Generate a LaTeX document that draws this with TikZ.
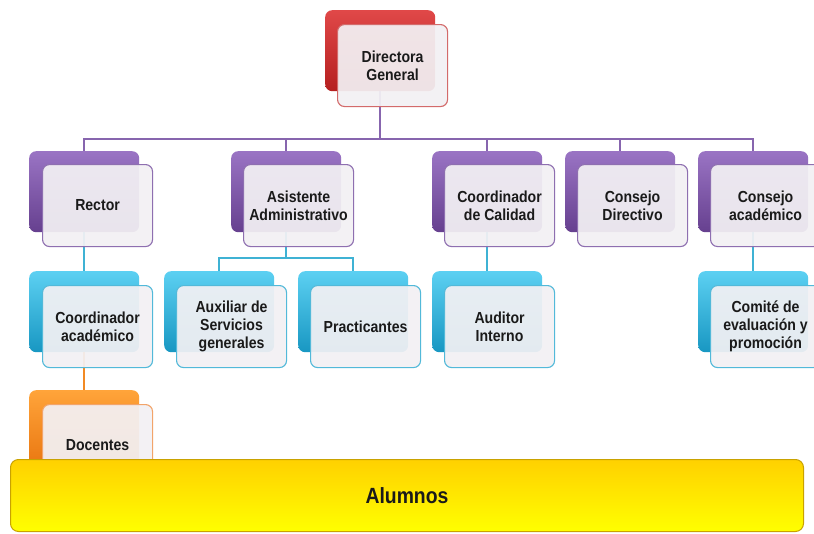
\documentclass[tikz,border=0pt]{standalone}
\usepackage{fontspec}
\setmainfont{Liberation Sans}[BoldFont={Liberation Sans Bold}]
\newfontfamily\lblfont{Liberation Sans Bold}[FakeStretch=0.88]
\definecolor{txt}{HTML}{1A1A1A}
\definecolor{redT}{HTML}{E04848}
\definecolor{redB}{HTML}{B51F1F}
\definecolor{redE}{HTML}{D36A6A}
\definecolor{purT}{HTML}{9A74C4}
\definecolor{purB}{HTML}{66408F}
\definecolor{purE}{HTML}{8E6FB0}
\definecolor{purL}{HTML}{8765AE}
\definecolor{cyaT}{HTML}{5CD0F2}
\definecolor{cyaB}{HTML}{1897C2}
\definecolor{cyaE}{HTML}{52B9D9}
\definecolor{cyaL}{HTML}{3FB2D4}
\definecolor{oraT}{HTML}{FFA43A}
\definecolor{oraB}{HTML}{E8740E}
\definecolor{oraE}{HTML}{F2A46A}
\definecolor{oraL}{HTML}{F28A24}
\definecolor{frontfill}{HTML}{F3F1F4}
\definecolor{yA}{HTML}{FFCC00}
\definecolor{yB}{HTML}{FFFF00}
\definecolor{yH}{HTML}{FFF27A}
\definecolor{yE}{HTML}{C9A200}
\pgfdeclareverticalshading{alumnosshade}{100bp}{color(0bp)=(yB); color(25bp)=(yB); color(80bp)=(yA); color(88bp)=(yA); color(93bp)=(yH); color(100bp)=(yA)}
\tikzset{
  backbox/.style={rounded corners=7pt, minimum width=110pt, minimum height=81pt, anchor=north west, inner sep=0pt},
  frontbox/.style={rounded corners=7pt, minimum width=110pt, minimum height=82pt, anchor=north west, inner sep=0pt,
    fill=frontfill, fill opacity=0.93, text opacity=1, line width=1.1pt, align=center,
    font=\lblfont\fontsize{16pt}{18pt}\selectfont, text=txt},
  redback/.style={backbox, top color=redT, bottom color=redB},
  purback/.style={backbox, top color=purT, bottom color=purB},
  cyaback/.style={backbox, top color=cyaT, bottom color=cyaB},
  oraback/.style={backbox, top color=oraT, bottom color=oraB},
  redfront/.style={frontbox, draw=redE},
  purfront/.style={frontbox, draw=purE},
  cyafront/.style={frontbox, draw=cyaE},
  orafront/.style={frontbox, draw=oraE},
  pline/.style={draw=purL, line width=2pt},
  cline/.style={draw=cyaL, line width=2pt},
  oline/.style={draw=oraL, line width=2pt},
}
\begin{document}
\begin{tikzpicture}[x=1pt,y=-1pt]
\useasboundingbox (0,0) rectangle (814,533);
\clip (0,0) rectangle (814,533);
\fill[white] (0,0) rectangle (814,533);
% back boxes
\node[redback] (dirB) at (325,10) {};
\node[purback] (rectB) at (29,151) {};
\node[purback] (asisB) at (231,151) {};
\node[purback] (calB) at (432,151) {};
\node[purback] (cdirB) at (565,151) {};
\node[purback] (cacaB) at (698,151) {};
\node[cyaback] (coordB) at (29,271) {};
\node[cyaback] (auxB) at (164,271) {};
\node[cyaback] (pracB) at (298,271) {};
\node[cyaback] (audB) at (432,271) {};
\node[cyaback] (comB) at (698,271) {};
\node[oraback] (docB) at (29,390) {};
% connectors
\coordinate (bus) at (0,139);
\coordinate (cbus) at (0,258);
\foreach \n in {rectB,asisB,calB,cdirB,cacaB}
  \draw[pline] (dirB.south) -- (dirB.south |- bus) -| (\n.north);
\draw[cline] (rectB.south) -- (coordB.north);
\draw[cline] (asisB.south) -- (asisB.south |- cbus) -| (auxB.north);
\draw[cline] (asisB.south) -- (asisB.south |- cbus) -| (pracB.north);
\draw[cline] (calB.south) -- (audB.north);
\draw[cline] (cacaB.south) -- (comB.north);
\draw[oline] (coordB.south) -- (docB.north);
% front boxes
\node[redfront] (dirF) at (337,24) {Directora\\General};
\node[purfront] (rectF) at (42,164) {Rector};
\node[purfront] (asisF) at (243,164) {Asistente\\Administrativo};
\node[purfront] (calF) at (444,164) {Coordinador\\de Calidad};
\node[purfront] (cdirF) at (577,164) {Consejo\\Directivo};
\node[purfront] (cacaF) at (710,164) {Consejo\\académico};
\node[cyafront] (coordF) at (42,285) {Coordinador\\académico};
\node[cyafront] (auxF) at (176,285) {Auxiliar de\\Servicios\\generales};
\node[cyafront] (pracF) at (310,285) {Practicantes};
\node[cyafront] (audF) at (444,285) {Auditor\\Interno};
\node[cyafront] (comF) at (710,285) {Comité de\\evaluación y\\promoción};
\node[orafront] (docF) at (42,404) {Docentes};
% students bar
\node[rounded corners=8pt, minimum width=793pt, minimum height=72pt, anchor=north west, inner sep=0pt,
  shading=alumnosshade, draw=yE, line width=1pt, text=txt,
  font=\lblfont\fontsize{22pt}{24pt}\selectfont] (alum) at (10,459) {Alumnos};
\end{tikzpicture}
\end{document}
